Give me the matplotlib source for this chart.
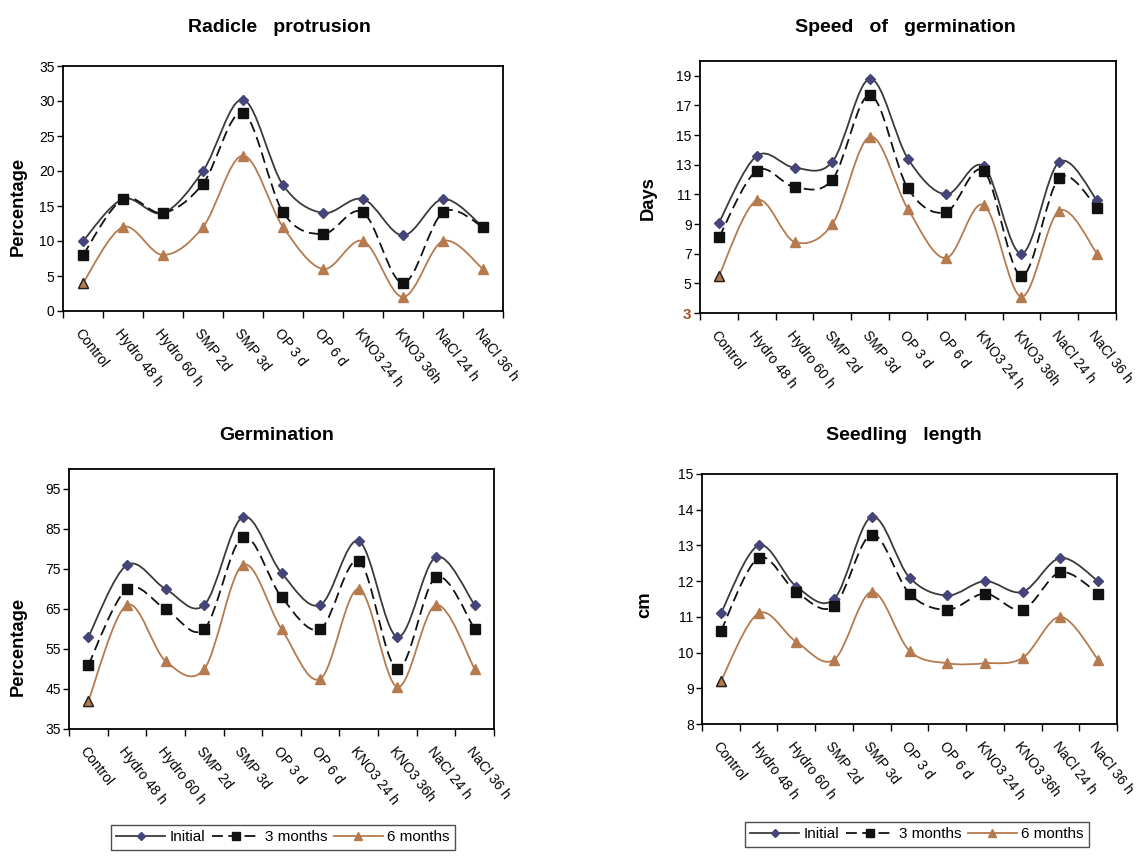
import numpy as np
import matplotlib
matplotlib.use("Agg")
import matplotlib.pyplot as plt
from matplotlib.path import Path
from matplotlib.patches import PathPatch
from matplotlib.lines import Line2D

plt.rcParams['font.family'] = ['Liberation Sans', 'DejaVu Sans']

treatments = ["Control", "Hydro 48 h", "Hydro 60 h", "SMP 2d", "SMP 3d", "OP 3 d",
              "OP 6 d", "KNO3 24 h", "KNO3 36h", "NaCl 24 h", "NaCl 36 h"]
series_names = ["Initial", "3 months", "6 months"]

# radicle protrusion (%)
radicle_initial = [10, 16, 14, 20, 30.2, 18, 14, 16, 10.8, 16, 12]
radicle_3m = [8, 16, 14, 18.2, 28.3, 14.1, 11, 14.1, 4, 14.1, 12]
radicle_6m = [4, 12, 8, 12, 22.2, 12, 6, 10, 2, 10, 6]

# speed of germination (days)
speed_initial = [9.1, 13.6, 12.8, 13.2, 18.8, 13.4, 11, 12.9, 7, 13.2, 10.6]
speed_3m = [8.1, 12.6, 11.5, 12, 17.7, 11.4, 9.8, 12.6, 5.5, 12.1, 10.1]
speed_6m = [5.5, 10.6, 7.8, 9, 14.9, 10, 6.7, 10.3, 4.1, 9.9, 7]

# germination (%)
germ_initial = [58, 76, 70, 66, 88, 74, 66, 82, 58, 78, 66]
germ_3m = [51, 70, 65, 60, 83, 68, 60, 77, 50, 73, 60]
germ_6m = [42, 66, 52, 50, 76, 60, 47.5, 70, 45.5, 66, 50]

# seedling length (cm)
seed_initial = [11.1, 13, 11.85, 11.5, 13.8, 12.1, 11.6, 12, 11.7, 12.65, 12]
seed_3m = [10.6, 12.65, 11.7, 11.3, 13.3, 11.65, 11.2, 11.65, 11.2, 12.25, 11.65]
seed_6m = [9.2, 11.1, 10.3, 9.8, 11.7, 10.05, 9.7, 9.7, 9.85, 11, 9.8]

styles = [
    dict(color="#3a3a3a", ls="-", marker="D", mfc="#45457a", mec="#45457a", ms=5.5),
    dict(color="#111111", ls=(0, (6, 3)), marker="s", mfc="#111111", mec="#111111", ms=6.5),
    dict(color="#b57a4e", ls="-", marker="^", mfc="#b57a4e", mec="#b57a4e", ms=7),
]


def smooth_path(x, y):
    # excel-like smoothed line, bezier segments through the points
    pts = np.column_stack([np.asarray(x, float), np.asarray(y, float)])
    verts = [pts[0]]
    codes = [Path.MOVETO]
    n = len(pts)
    for i in range(n - 1):
        p0 = pts[max(i - 1, 0)]
        p1 = pts[i]
        p2 = pts[i + 1]
        p3 = pts[min(i + 2, n - 1)]
        c1 = p1 + (p2 - p0) / 6.0
        c2 = p2 - (p3 - p1) / 6.0
        verts += [c1, c2, p2]
        codes += [Path.CURVE4] * 3
    return Path(verts, codes)


def panel(rect, title, ylabel, data, ylim, yticks, title_xy, ylabel_xy):
    ax = fig.add_axes(rect)
    x = np.arange(len(treatments))
    for vals, st in zip(data, styles):
        ax.add_patch(PathPatch(smooth_path(x, vals), fill=False, edgecolor=st["color"],
                               lw=1.3, ls=st["ls"], zorder=2))
        ax.plot(x, vals, ls="none", marker=st["marker"], mfc=st["mfc"], mec=st["mec"],
                ms=st["ms"], zorder=3)
    # first triangle has dark outline
    ax.plot(x[:1], data[2][:1], ls="none", marker="^", mfc=styles[2]["mfc"], mec="#222222",
            ms=7, mew=1.0, zorder=4)
    ax.set_xlim(-0.5, len(treatments) - 0.5)
    ax.set_ylim(*ylim)
    ax.set_yticks(yticks)
    ax.tick_params(axis="y", direction="out", length=4, width=1, labelsize=10, pad=2)
    ax.set_xticks(x)
    ax.set_xticklabels(treatments, rotation=-52, ha="left", va="top", rotation_mode="anchor",
                       fontsize=10)
    ax.tick_params(axis="x", length=0, pad=11)
    ax.set_xticks(np.arange(-0.5, len(treatments)), minor=True)
    ax.tick_params(axis="x", which="minor", direction="out", length=5, width=1)
    for s in ax.spines.values():
        s.set_linewidth(1.3)
    fig.text(title_xy[0] / W, 1 - title_xy[1] / H, title, ha="center", va="center",
             fontsize=14, fontweight="bold")
    fig.text(ylabel_xy[0] / W, 1 - ylabel_xy[1] / H, ylabel, rotation=90, ha="center",
             va="center", fontsize=13.2, fontweight="bold")
    return ax


W, H = 1136, 857
fig = plt.figure(figsize=(W / 100, H / 100), dpi=100)


def rect(l, t, r, b):
    return [l / W, 1 - b / H, (r - l) / W, (b - t) / H]


panel(rect(63, 66, 503, 311), "Radicle   protrusion", "Percentage",
      [radicle_initial, radicle_3m, radicle_6m], (0, 35), np.arange(0, 36, 5),
      (279, 27), (18, 206))
ax2 = panel(rect(700, 61, 1116, 313), "Speed   of   germination", "Days",
            [speed_initial, speed_3m, speed_6m], (3, 20), np.arange(3, 20, 2),
            (905, 27), (648, 198))
lab = ax2.get_yticklabels()[0]
lab.set_color("#a0522d")
lab.set_fontweight("bold")
lab.set_fontsize(11)
panel(rect(69, 469, 494, 729), "Germination", "Percentage",
      [germ_initial, germ_3m, germ_6m], (35, 100), np.arange(35, 96, 10),
      (277, 435), (18, 646))
panel(rect(702, 474, 1117, 724), "Seedling   length", "cm",
      [seed_initial, seed_3m, seed_6m], (8, 15), np.arange(8, 16, 1),
      (904, 435), (645, 605))

handles = [Line2D([], [], color=st["color"], ls=st["ls"], lw=1.3, marker=st["marker"],
                  mfc=st["mfc"], mec=st["mec"], ms=st["ms"] - 1) for st in styles]
for left, top in [(111, 825), (745, 822)]:
    fig.legend(handles, series_names, loc="upper left",
               bbox_to_anchor=(left / W, 1 - top / H), ncol=3, frameon=True, fancybox=False,
               edgecolor="#222222", fontsize=11, handlelength=3.2, handletextpad=0.3,
               columnspacing=0.4, borderpad=0.35, borderaxespad=0)

fig.savefig("out.png", dpi=100)
